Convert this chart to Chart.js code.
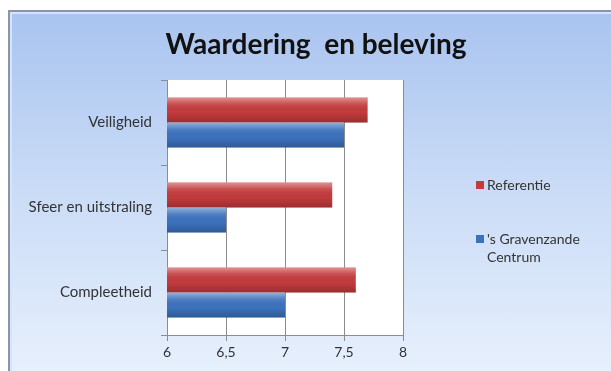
<!DOCTYPE html>
<html>
<head>
<meta charset="utf-8">
<title>Waardering en beleving</title>
<script src="https://cdn.jsdelivr.net/npm/chart.js@4.4.0/dist/chart.umd.min.js"></script>
<style>
html, body { margin: 0; padding: 0; background: #fff; }
#wrap { position: relative; width: 611px; height: 371px; overflow: hidden; }
#frame {
    position: absolute; left: 8px; top: 10px; width: 620px; height: 380px;
    border-top: 2px solid #8a95a6; border-left: 2px solid #8a95a6;
    background: linear-gradient(#a9c4f0, #c9dbf6 45%, #eaf2fd);
    box-shadow: inset 2px 2px 0 #d6e4fa;
}
canvas { position: absolute; left: 0; top: 0; }
</style>
</head>
<body>
<div id="wrap">
    <div id="frame"></div>
    <canvas id="chart" width="611" height="371"></canvas>
</div>
<script>
var chartTitle = "Waardering  en beleving";
var categories = ["Veiligheid", "Sfeer en uitstraling", "Compleetheid"];
var referentie = [7.7, 7.4, 7.6];
var gravenzande = [7.5, 6.5, 7.0];
var seriesNames = ["Referentie", "'s Gravenzande Centrum"];
var tickLabels = ["6", "6,5", "7", "7,5", "8"];

var fontName = "Lato, 'Open Sans', sans-serif";

// white plot area behind the bars
var plotBg = {
    id: "plotBg",
    beforeDraw: function(chart) {
        var a = chart.chartArea;
        var ctx = chart.ctx;
        ctx.save();
        ctx.fillStyle = "#ffffff";
        ctx.fillRect(a.left, a.top, a.right - a.left, a.bottom - a.top);
        ctx.restore();
    }
};

// glossy look on top of every bar
var barShine = {
    id: "barShine",
    afterDatasetsDraw: function(chart) {
        var ctx = chart.ctx;
        var a = chart.chartArea;
        chart.data.datasets.forEach(function(ds, i) {
            var meta = chart.getDatasetMeta(i);
            meta.data.forEach(function(bar) {
                var top = bar.y - bar.height / 2;
                var left = Math.max(bar.base, a.left);
                var g = ctx.createLinearGradient(0, top, 0, top + bar.height);
                g.addColorStop(0, "rgba(255,255,255,0.45)");
                g.addColorStop(0.25, "rgba(255,255,255,0.12)");
                g.addColorStop(0.6, "rgba(0,0,0,0)");
                g.addColorStop(1, "rgba(0,0,0,0.22)");
                ctx.save();
                ctx.fillStyle = g;
                ctx.fillRect(left, top, bar.x - left, bar.height);
                ctx.restore();
            });
        });
    }
};

// title centred over the whole picture
var bigTitle = {
    id: "bigTitle",
    afterDraw: function(chart) {
        var ctx = chart.ctx;
        ctx.save();
        ctx.font = "bold 28px " + fontName;
        ctx.fillStyle = "#111";
        ctx.textAlign = "center";
        ctx.textBaseline = "middle";
        ctx.fillText(chartTitle, 316, 45);
        ctx.restore();
    }
};

// legend on the right, with wrapped text
var sideLegend = {
    id: "sideLegend",
    afterDraw: function(chart) {
        var ctx = chart.ctx;
        var x = 476, maxW = 118, lineH = 18;
        var ys = [185, 239];
        ctx.save();
        ctx.font = "14px " + fontName;
        ctx.textBaseline = "middle";
        chart.data.datasets.forEach(function(ds, i) {
            var words = ds.label.split(" ");
            var lines = [], cur = "";
            words.forEach(function(w) {
                var t = cur ? cur + " " + w : w;
                if (cur && ctx.measureText(t).width > maxW) { lines.push(cur); cur = w; }
                else cur = t;
            });
            lines.push(cur);
            ctx.fillStyle = ds.backgroundColor;
            ctx.fillRect(x, ys[i] - 4, 8, 8);
            ctx.fillStyle = "#333";
            lines.forEach(function(l, j) {
                ctx.fillText(l, x + 11, ys[i] + j * lineH);
            });
        });
        ctx.restore();
    }
};

var ctx = document.getElementById("chart").getContext("2d");
var chart = new Chart(ctx, {
    type: "bar",
    data: {
        labels: categories,
        datasets: [{
            label: seriesNames[0],
            data: referentie,
            backgroundColor: "#c43b3d"
        }, {
            label: seriesNames[1],
            data: gravenzande,
            backgroundColor: "#3c72bd"
        }]
    },
    options: {
        indexAxis: "y",
        responsive: false,
        animation: false,
        categoryPercentage: 0.59,
        barPercentage: 1.0,
        layout: { padding: { left: 0, right: 208, top: 80, bottom: 10 } },
        plugins: {
            legend: { display: false },
            tooltip: { enabled: false },
            title: { display: false }
        },
        scales: {
            x: {
                min: 6,
                max: 8,
                ticks: {
                    stepSize: 0.5,
                    color: "#333",
                    font: { family: fontName, size: 14 },
                    padding: 3,
                    callback: function(v, i) { return tickLabels[i]; }
                },
                grid: { color: "#8c8c8c", tickLength: 6 },
                border: { color: "#8c8c8c" },
                afterFit: function(s) { s.height = 26; }
            },
            y: {
                ticks: {
                    color: "#333",
                    font: { family: fontName, size: 15 },
                    padding: 9
                },
                grid: { drawOnChartArea: false, offset: true, color: "#8c8c8c", tickLength: 6 },
                border: { color: "#8c8c8c" },
                afterFit: function(s) { s.width = 167; }
            }
        }
    },
    plugins: [plotBg, barShine, bigTitle, sideLegend]
});
</script>
</body>
</html>
